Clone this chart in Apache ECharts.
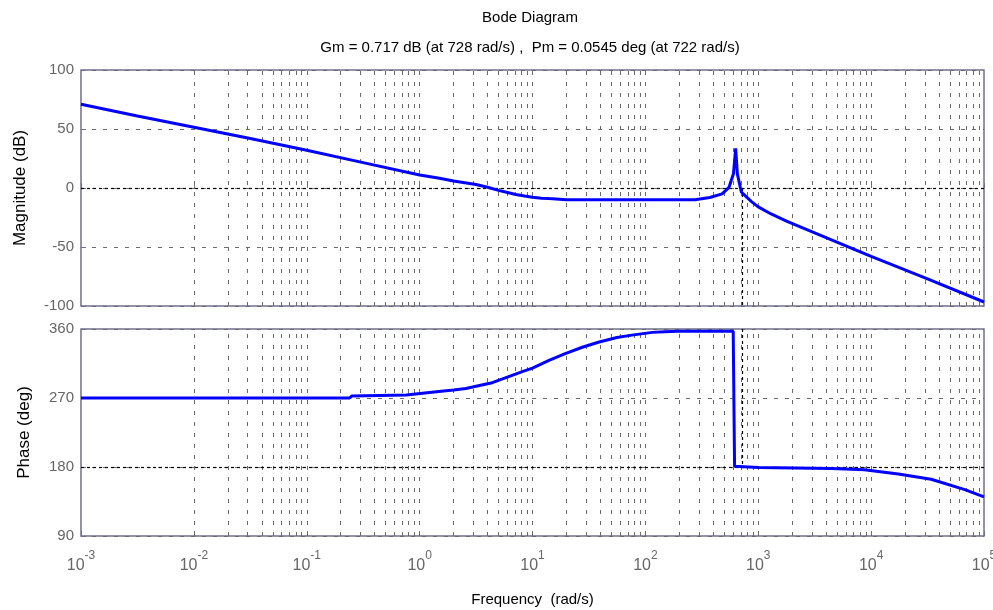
<!DOCTYPE html>
<html>
<head>
<meta charset="utf-8">
<title>Bode Diagram</title>
<script src="https://cdn.jsdelivr.net/npm/echarts@6/dist/echarts.min.js"></script>
<style>
  html, body { margin: 0; padding: 0; background: #fff; }
  #chart { width: 993px; height: 610px; }
</style>
</head>
<body>
<div id="chart"></div>
<script>
// values (rad/s, dB, deg)
var magFreq = [0.001, 0.00316, 0.01, 0.0316, 0.1, 0.316, 1, 1.5, 2, 3.16, 4, 5, 6, 7.1, 8.5, 10, 12, 14, 20, 100, 275, 372, 479, 550, 603, 631, 653, 708, 794, 871, 1000, 1300, 1778, 3160, 5620, 10000, 31600, 100000];
var magDb = [71, 61, 51.5, 42, 32, 21.5, 11, 8.3, 6, 3, 0.6, -2, -3.8, -5.5, -6.8, -7.8, -8.6, -9, -9.9, -10, -10, -8, -5, 0.5, 12, 33.5, 12, -3.4, -8, -11.5, -16, -22, -28, -38, -48, -58, -77, -96.6];

var phaseFreq = [0.001, 0.24, 0.25, 0.76, 1.48, 2, 2.57, 3.55, 4.4, 6.6, 8, 10, 14, 19.5, 28, 39, 56, 76, 115, 148, 195, 600, 617, 1000, 4470, 8700, 17400, 34000, 67600, 100000];
var phaseDeg = [270, 270, 272.5, 274, 278.5, 280.5, 282.5, 287, 290, 299.5, 304, 309, 319, 328, 336.5, 343, 349, 352, 355.6, 356.5, 357, 357, 181, 179.5, 178, 176.5, 171, 164, 150.5, 141];

var magTicks = { min: -100, max: 100, step: 50 };
var phaseTicks = { min: 90, max: 360, step: 90 };
var freqRange = [0.001, 100000];

var gmFreq = 728;   // gain margin frequency
var pmFreq = 722;   // phase margin frequency

var titleText = 'Bode Diagram';
var subText = 'Gm = 0.717 dB (at 728 rad/s) ,  Pm = 0.0545 deg (at 722 rad/s)';

// dotted log grid: 2..9 in every decade plus the decades
var gridX = [];
for (var d = -3; d < 5; d++) {
  for (var k = 1; k < 10; k++) {
    if (d === -3 && k === 1) continue;
    gridX.push(k * Math.pow(10, d));
  }
}

var boxColor = '#70708c';
var font = 'Liberation Sans, Arial';
var gridStyle = { color: '#6a6a6a', type: [4, 7], width: 1 };
var marginStyle = { color: '#000', type: [3, 3], width: 1.2 };

function zip(a, b) {
  return a.map(function (v, i) { return [v, b[i]]; });
}

function xAxisOf(idx, withLabels) {
  return {
    type: 'log',
    logBase: 10,
    gridIndex: idx,
    min: freqRange[0],
    max: freqRange[1],
    axisLine: { show: false },
    axisTick: { show: true, inside: true, length: 5, lineStyle: { color: boxColor } },
    splitLine: { show: false },
    name: withLabels ? 'Frequency  (rad/s)' : '',
    nameLocation: 'middle',
    nameGap: 56,
    nameTextStyle: { color: '#000', fontSize: 15, fontFamily: font },
    axisLabel: {
      show: withLabels,
      margin: 22,
      showMinLabel: true,
      showMaxLabel: true,
      formatter: function (v) {
        var e = Math.round(Math.log10(v));
        return '{b|10}{e|' + e + '}';
      },
      rich: {
        b: { fontSize: 16, lineHeight: 16, color: '#666', fontFamily: font },
        e: { fontSize: 12, lineHeight: 12, padding: [0, 0, 20, 0], color: '#666', fontFamily: font }
      }
    }
  };
}

function yAxisOf(idx, t, name, gap) {
  return {
    type: 'value',
    gridIndex: idx,
    min: t.min,
    max: t.max,
    interval: t.step,
    axisLine: { show: false },
    axisTick: { show: true, inside: true, length: 5, lineStyle: { color: boxColor } },
    splitLine: { show: true, lineStyle: gridStyle },
    axisLabel: { color: '#666', fontSize: 15, margin: 7, fontFamily: font },
    name: name,
    nameLocation: 'middle',
    nameGap: gap,
    nameTextStyle: { color: '#000', fontSize: 17, fontFamily: font }
  };
}

var chart = echarts.init(document.getElementById('chart'));

chart.setOption({
  animation: false,
  backgroundColor: '#fff',
  title: {
    text: titleText,
    subtext: subText,
    left: 530,
    textAlign: 'center',
    top: 10,
    padding: 0,
    itemGap: 15,
    textStyle: { color: '#000', fontSize: 15, fontWeight: 'normal', fontFamily: font },
    subtextStyle: { color: '#000', fontSize: 15, fontFamily: font }
  },
  grid: [
    { left: 81, right: 9, top: 70, height: 236, outerBoundsMode: 'none', show: true, borderColor: boxColor, borderWidth: 1.5, backgroundColor: '#fff' },
    { left: 81, right: 9, top: 329, height: 207, outerBoundsMode: 'none', show: true, borderColor: boxColor, borderWidth: 1.5, backgroundColor: '#fff' }
  ],
  xAxis: [xAxisOf(0, false), xAxisOf(1, true)],
  yAxis: [yAxisOf(0, magTicks, 'Magnitude (dB)', 52), yAxisOf(1, phaseTicks, 'Phase (deg)', 48)],
  series: [
    {
      name: 'grid top', type: 'line', xAxisIndex: 0, yAxisIndex: 0, data: [], silent: true,
      markLine: {
        silent: true, symbol: 'none', label: { show: false }, lineStyle: gridStyle,
        data: gridX.map(function (v) { return { xAxis: v }; })
      }
    },
    {
      name: 'grid bottom', type: 'line', xAxisIndex: 1, yAxisIndex: 1, data: [], silent: true,
      markLine: {
        silent: true, symbol: 'none', label: { show: false }, lineStyle: gridStyle,
        data: gridX.map(function (v) { return { xAxis: v }; })
      }
    },
    {
      name: 'Magnitude', type: 'line', xAxisIndex: 0, yAxisIndex: 0,
      data: zip(magFreq, magDb),
      showSymbol: false, z: 5,
      lineStyle: { color: '#0000ff', width: 3 },
      markLine: {
        silent: true, symbol: 'none', label: { show: false }, lineStyle: marginStyle,
        data: [
          { yAxis: 0 },
          [{ coord: [gmFreq, 0] }, { coord: [gmFreq, magTicks.min] }]
        ]
      }
    },
    {
      name: 'Phase', type: 'line', xAxisIndex: 1, yAxisIndex: 1,
      data: zip(phaseFreq, phaseDeg),
      showSymbol: false, z: 5,
      lineStyle: { color: '#0000ff', width: 3 },
      markLine: {
        silent: true, symbol: 'none', label: { show: false }, lineStyle: marginStyle,
        data: [
          { yAxis: 180 },
          [{ coord: [pmFreq, phaseTicks.max] }, { coord: [pmFreq, 180] }]
        ]
      }
    }
  ]
});
</script>
</body>
</html>
